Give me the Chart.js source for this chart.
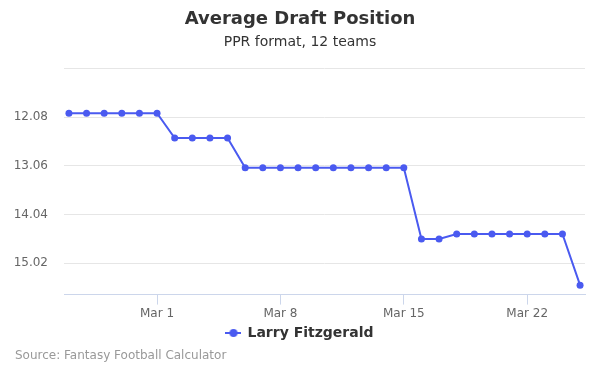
<!DOCTYPE html>
<html>
<head>
<meta charset="utf-8">
<script src="https://cdn.jsdelivr.net/npm/chart.js@4"></script>
<style>
	body { margin: 0; background: #fff; }
	#wrap { position: relative; width: 600px; height: 375px; }
	#source { position: absolute; left: 15px; top: 348px; font: 12px "DejaVu Sans", sans-serif; color: #999; }
</style>
</head>
<body>
<div id="wrap">
	<canvas id="adp" width="600" height="375"></canvas>
	<div id="source">Source: Fantasy Football Calculator</div>
</div>
<script>
var dates = ['Feb 25', 'Feb 26', 'Feb 27', 'Feb 28', 'Feb 29', 'Mar 1', 'Mar 2', 'Mar 3', 'Mar 4', 'Mar 5',
	'Mar 6', 'Mar 7', 'Mar 8', 'Mar 9', 'Mar 10', 'Mar 11', 'Mar 12', 'Mar 13', 'Mar 14', 'Mar 15',
	'Mar 16', 'Mar 17', 'Mar 18', 'Mar 19', 'Mar 20', 'Mar 21', 'Mar 22', 'Mar 23', 'Mar 24', 'Mar 25'];
var adp = [12.0, 12.0, 12.0, 12.0, 12.0, 12.0, 12.5, 12.5, 12.5, 12.5,
	13.1, 13.1, 13.1, 13.1, 13.1, 13.1, 13.1, 13.1, 13.1, 13.1,
	14.53, 14.53, 14.43, 14.43, 14.43, 14.43, 14.43, 14.43, 14.43, 15.46];
var xTicks = ['Mar 1', 'Mar 8', 'Mar 15', 'Mar 22'];
var yTicks = [11.10, 12.08, 13.06, 14.04, 15.02];

var lineColor = '#4a5af0';
var font = '"DejaVu Sans", sans-serif';

// legend marker: short line with a dot in the middle
var marker = document.createElement('canvas');
marker.width = 16;
marker.height = 10;
(function () {
	var c = marker.getContext('2d');
	c.strokeStyle = lineColor;
	c.fillStyle = lineColor;
	c.lineWidth = 2;
	c.beginPath();
	c.moveTo(0, 5);
	c.lineTo(16, 5);
	c.stroke();
	c.beginPath();
	c.arc(8, 5, 4, 0, Math.PI * 2);
	c.fill();
})();

var points = adp.map((v, i) => ({ x: i, y: v }));

new Chart(document.getElementById('adp').getContext('2d'), {
	type: 'line',
	data: {
		datasets: [{
			label: 'Larry Fitzgerald',
			data: points,
			borderColor: lineColor,
			backgroundColor: lineColor,
			borderWidth: 2,
			pointRadius: 3.5,
			pointBorderWidth: 0,
			pointHoverRadius: 4,
			tension: 0
		}]
	},
	options: {
		responsive: false,
		animation: false,
		layout: { padding: { left: 15, right: 15, top: 0, bottom: 25 } },
		plugins: {
			title: {
				display: true,
				text: 'Average Draft Position',
				color: '#333',
				font: { family: font, size: 18, weight: 'bold' },
				padding: { top: 9, bottom: 3 }
			},
			subtitle: {
				display: true,
				text: 'PPR format, 12 teams',
				color: '#333',
				font: { family: font, size: 14 },
				padding: { top: 0, bottom: 18 }
			},
			legend: {
				position: 'bottom',
				labels: {
					usePointStyle: true,
					pointStyle: marker,
					color: '#333',
					font: { family: font, size: 14, weight: 'bold' },
					padding: 3
				}
			},
			tooltip: { enabled: false }
		},
		scales: {
			x: {
				type: 'linear',
				min: -0.28,
				max: 29.28,
				afterBuildTicks: (axis) => {
					axis.ticks = xTicks.map(t => ({ value: dates.indexOf(t) }));
				},
				ticks: {
					color: '#666',
					font: { family: font, size: 12 },
					padding: 2,
					maxRotation: 0,
					autoSkip: false,
					callback: (v) => dates[v]
				},
				grid: {
					drawOnChartArea: false,
					color: '#ccd6eb',
					tickLength: 10
				},
				border: { color: '#ccd6eb' }
			},
			y: {
				reverse: true,
				min: 11.10,
				max: 15.65,
				afterBuildTicks: (axis) => {
					axis.ticks = yTicks.map(v => ({ value: v }));
				},
				afterFit: (scale) => { scale.width = 49; },
				ticks: {
					color: '#666',
					font: { family: font, size: 12 },
					padding: 16,
					callback: (v) => v === 11.10 ? '' : v.toFixed(2)
				},
				grid: {
					color: '#e6e6e6',
					drawTicks: false
				},
				border: { display: false }
			}
		}
	}
});
</script>
</body>
</html>
